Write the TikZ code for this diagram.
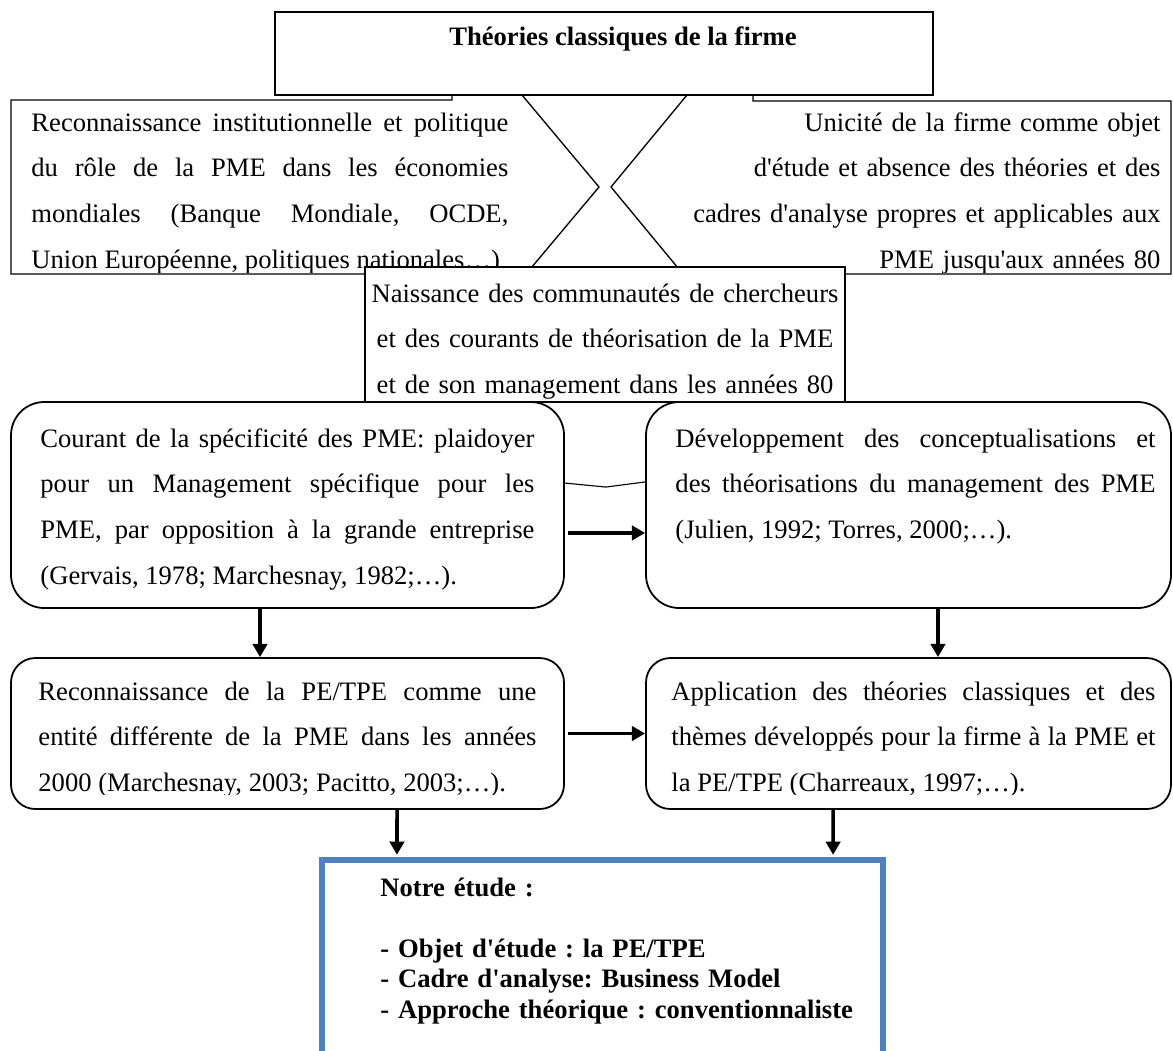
\documentclass[tikz,border=0pt]{standalone}
\usepackage{fontspec}
\setmainfont{Liberation Serif}[Ligatures=TeXOff]
\usetikzlibrary{arrows.meta,positioning,fit}
\frenchspacing

\definecolor{studyblue}{RGB}{79,129,189}

\begin{document}
\begin{tikzpicture}[
    x=0.451pt, y=-0.451pt,
    plainbox/.style={draw,line width=0.6pt,fill=white,inner sep=0pt},
    rbox/.style={draw,line width=0.8pt,fill=white,inner sep=0pt},
    bluebox/.style={draw=studyblue,line width=2.3pt,inner sep=0pt},
    txt/.style={inner sep=0pt,font=\fontsize{12}{20.7}\selectfont},
    bold/.style={inner sep=0pt,font=\fontsize{12}{13.8}\selectfont\bfseries},
    arrow/.style={-{Triangle[length=6pt,width=6.5pt]},line width=1.6pt},
    link/.style={line width=0.5pt}
]
\useasboundingbox (0,0) rectangle (1173,1050);
\clip (0,0) rectangle (1173,1050);

% Left and right statements, pointed towards the middle
\draw[plainbox] (11,100) -- (452,100) -- (452,95) -- (522,95) -- (599,187)
    -- (526,274) -- (11,274) -- cycle;
\draw[plainbox] (1171,101) -- (753,101) -- (753,95) -- (687,95) -- (611,187)
    -- (683,274) -- (1171,274) -- cycle;
\begin{scope}
\clip (0,95) rectangle (1173,272.5);
\node[txt,text width=215.1pt,align=justify,anchor=base west] (inst) at (31,131)
    {Reconnaissance institutionnelle et politique\linebreak du rôle de la PME dans les économies\linebreak mondiales (Banque Mondiale, OCDE,\linebreak Union Européenne, politiques nationales…)};
\node[txt,text width=212pt,align=right,anchor=base east] (unic) at (1161,131)
    {Unicité de la firme comme objet\\d'étude et absence des théories et des\\cadres d'analyse propres et applicables aux\\PME jusqu'aux années 80};
\end{scope}

% Classical theories
\node[plainbox,fit={(275,12) (933,95)}] (classic) {};
\node[bold,anchor=base] (classictxt) at (623,45) {Théories classiques de la firme};

% Research communities
\node[plainbox,fit={(365,267) (845,402)}] (birth) {};
\node[txt,text width=216.5pt,align=center,anchor=base] (birthtxt) at (605,302)
    {Naissance des communautés de chercheurs\\et des courants de théorisation de la PME\\et de son management dans les années 80};

% First row
\node[rbox,rounded corners=15pt,fit={(11,402) (564,608)}] (spec) {};
\node[rbox,rounded corners=15pt,fit={(646,402) (1171,608)}] (dev) {};
\node[txt,text width=222.8pt,align=justify,anchor=base west] (spectxt) at (40,447)
    {Courant de la spécificité des PME: plaidoyer\linebreak pour un Management spécifique pour les\linebreak PME, par opposition à la grande entreprise\linebreak (Gervais, 1978; Marchesnay, 1982;…).};
\node[txt,text width=216.5pt,align=justify,anchor=base west] (devtxt) at (675,447)
    {Développement des conceptualisations et\linebreak des théorisations du management des PME\linebreak (Julien, 1992; Torres, 2000;…).};

% Second row
\node[rbox,rounded corners=11pt,fit={(11,658) (564,809)}] (pe) {};
\node[rbox,rounded corners=11pt,fit={(646,658) (1171,809)}] (appl) {};
\begin{scope}
\clip (0,658) rectangle (1173,794);
\node[txt,text width=224.6pt,align=justify,anchor=base west] (petxt) at (38,700)
    {Reconnaissance de la PE/TPE comme une\linebreak entité différente de la PME dans les années\linebreak 2000 (Marchesnay, 2003; Pacitto, 2003;…).};
\node[txt,text width=218.3pt,align=justify,anchor=base west] (appltxt) at (671,700)
    {Application des théories classiques et des\linebreak thèmes développés pour la firme à la PME et\linebreak la PE/TPE (Charreaux, 1997;…).};
\end{scope}

% Our study
\node[bluebox,fit={(322,860) (883,1075)}] (study) {};
\node[bold,text width=240pt,align=left,anchor=base west] (studytxt) at (380,896)
    {Notre étude :\\[13.8pt]- Objet d'étude : la PE/TPE\\- Cadre d'analyse: Business Model\\- Approche théorique : conventionnaliste};

% Arrows
\draw[link] ([yshift=9.9pt]spec.east) -- ++(18.5pt,-1.8pt) -- ([yshift=10.4pt]dev.west);
\draw[arrow] ([xshift=1.4pt,yshift=-12.6pt]spec.east) -- ([yshift=-12.6pt]dev.west);
\draw[arrow] ([xshift=1.4pt]pe.east) -- (appl.west);
\draw[arrow] ([xshift=-12.4pt]spec.south) -- ([xshift=-12.4pt]pe.north);
\draw[arrow] ([xshift=13.3pt]dev.south) -- ([xshift=13.3pt]appl.north);
\draw[arrow] ([xshift=49.4pt]pe.south) -- ([xshift=-92.7pt,yshift=1.2pt]study.north);
\draw[arrow] ([xshift=-34pt]appl.south) -- ([xshift=104pt,yshift=1.2pt]study.north);

\end{tikzpicture}
\end{document}
